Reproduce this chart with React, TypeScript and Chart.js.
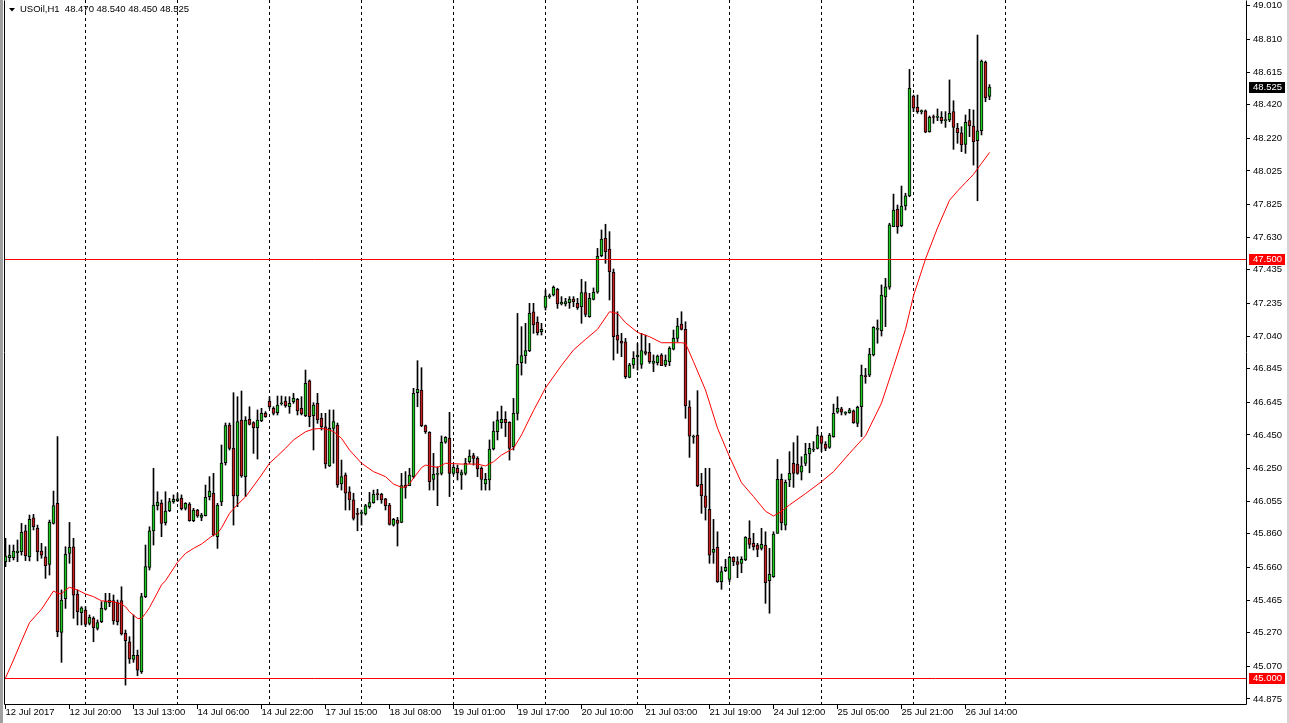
import React, { useEffect, useRef } from "react";
import { Chart, registerables } from "chart.js";

Chart.register(...registerables);

// ---- Data (USOil, H1) ----
const opens = [
  45.694, 45.718, 45.718, 45.747, 45.753, 45.877, 45.723, 45.956, 45.893, 45.757,
  45.723, 45.678, 45.922, 46.042, 45.272, 45.473, 45.743, 45.783, 45.501, 45.389,
  45.405, 45.326, 45.356, 45.296, 45.336, 45.411, 45.447, 45.461, 45.449, 45.461,
  45.266, 45.216, 45.111, 45.135, 45.037, 45.485, 45.660, 45.877, 46.028, 46.044,
  45.926, 45.998, 46.052, 46.058, 46.072, 46.012, 46.038, 45.938, 46.002, 45.958,
  45.968, 46.082, 46.102, 45.843, 46.050, 46.284, 46.509, 46.370, 46.086, 46.539,
  46.201, 46.543, 46.523, 46.493, 46.535, 46.579, 46.652, 46.609, 46.583, 46.636,
  46.652, 46.618, 46.648, 46.662, 46.609, 46.565, 46.772, 46.565, 46.638, 46.549,
  46.499, 46.265, 46.489, 46.509, 46.157, 46.211, 46.111, 46.062, 45.982, 45.982,
  45.978, 46.022, 46.046, 46.096, 46.096, 46.068, 46.032, 45.912, 45.942, 45.928,
  46.151, 46.147, 46.201, 46.702, 46.718, 46.505, 46.465, 46.185, 46.215, 46.221,
  46.406, 46.430, 46.221, 46.250, 46.211, 46.221, 46.290, 46.326, 46.310, 46.250,
  46.157, 46.181, 46.366, 46.469, 46.523, 46.543, 46.525, 46.380, 46.579, 46.881,
  46.923, 46.953, 47.185, 47.122, 47.066, 47.211, 47.275, 47.285, 47.319, 47.231,
  47.231, 47.239, 47.261, 47.235, 47.215, 47.299, 47.155, 47.259, 47.301, 47.519,
  47.623, 47.559, 47.420, 47.046, 47.010, 47.006, 46.793, 46.867, 46.915, 46.871,
  46.947, 46.943, 46.877, 46.881, 46.927, 46.867, 46.887, 46.961, 47.026, 47.112,
  47.080, 46.618, 46.436, 46.449, 46.155, 46.087, 46.006, 45.749, 45.779, 45.574,
  45.640, 45.588, 45.719, 45.694, 45.684, 45.704, 45.833, 45.803, 45.793, 45.773,
  45.793, 45.580, 45.604, 45.863, 46.185, 45.912, 46.181, 46.280, 46.276, 46.227,
  46.280, 46.336, 46.360, 46.370, 46.443, 46.396, 46.376, 46.440, 46.585, 46.605,
  46.579, 46.583, 46.593, 46.519, 46.618, 46.801, 46.807, 46.927, 47.080, 47.072,
  47.273, 47.331, 47.692, 47.796, 47.698, 47.816, 47.876, 48.472, 48.405, 48.379,
  48.383, 48.259, 48.345, 48.345, 48.345, 48.325, 48.329, 48.379, 48.279, 48.253,
  48.184, 48.325, 48.293, 48.205, 48.265, 48.673, 48.470,
];

const highs = [
  45.833, 45.793, 45.793, 45.823, 45.922, 45.912, 45.972, 45.976, 45.912, 45.803,
  45.783, 45.942, 46.115, 46.440, 45.525, 45.783, 45.928, 45.833, 45.525, 45.425,
  45.425, 45.376, 45.365, 45.346, 45.455, 45.505, 45.505, 45.495, 45.465, 45.544,
  45.286, 45.246, 45.376, 45.166, 45.505, 45.793, 45.902, 46.251, 46.111, 46.062,
  46.111, 46.072, 46.092, 46.102, 46.092, 46.046, 46.046, 46.012, 46.006, 45.982,
  46.151, 46.201, 46.221, 46.042, 46.390, 46.521, 46.521, 46.702, 46.678, 46.712,
  46.559, 46.618, 46.529, 46.599, 46.609, 46.589, 46.678, 46.618, 46.682, 46.682,
  46.678, 46.678, 46.698, 46.668, 46.678, 46.837, 46.778, 46.642, 46.698, 46.579,
  46.579, 46.599, 46.599, 46.521, 46.300, 46.223, 46.141, 46.102, 46.012, 46.002,
  46.036, 46.107, 46.121, 46.125, 46.102, 46.072, 46.042, 45.952, 45.958, 46.221,
  46.231, 46.251, 46.728, 46.893, 46.851, 46.509, 46.469, 46.340, 46.260, 46.444,
  46.440, 46.585, 46.270, 46.270, 46.241, 46.310, 46.360, 46.340, 46.320, 46.260,
  46.221, 46.420, 46.529, 46.589, 46.622, 46.589, 46.529, 46.668, 47.175, 47.096,
  47.116, 47.235, 47.235, 47.155, 47.116, 47.315, 47.291, 47.339, 47.325, 47.275,
  47.265, 47.275, 47.275, 47.265, 47.378, 47.364, 47.295, 47.327, 47.563, 47.673,
  47.707, 47.663, 47.440, 47.185, 47.056, 47.026, 46.877, 46.947, 46.996, 47.056,
  47.046, 46.996, 46.927, 46.927, 46.935, 46.927, 46.976, 47.076, 47.146, 47.185,
  47.125, 46.654, 46.449, 46.714, 46.221, 46.251, 46.251, 45.946, 45.872, 45.664,
  45.708, 45.727, 45.723, 45.723, 45.723, 45.843, 45.938, 45.863, 45.803, 45.893,
  45.872, 45.773, 45.872, 46.304, 46.217, 46.181, 46.350, 46.404, 46.444, 46.320,
  46.400, 46.400, 46.410, 46.499, 46.449, 46.410, 46.459, 46.634, 46.678, 46.615,
  46.589, 46.609, 46.599, 46.622, 46.867, 46.847, 46.967, 47.096, 47.136, 47.345,
  47.384, 47.713, 47.887, 47.822, 47.935, 47.892, 48.631, 48.478, 48.478, 48.389,
  48.389, 48.353, 48.359, 48.395, 48.379, 48.379, 48.568, 48.444, 48.309, 48.289,
  48.359, 48.393, 48.389, 48.836, 48.687, 48.681, 48.540,
];

const lows = [
  45.664, 45.694, 45.704, 45.694, 45.733, 45.700, 45.698, 45.883, 45.698, 45.714,
  45.594, 45.614, 45.918, 45.246, 45.093, 45.415, 45.684, 45.356, 45.316, 45.316,
  45.306, 45.316, 45.216, 45.286, 45.330, 45.405, 45.425, 45.320, 45.316, 45.256,
  44.957, 45.087, 45.093, 45.013, 45.027, 45.479, 45.644, 45.793, 46.002, 45.843,
  45.912, 45.992, 46.042, 46.052, 46.002, 46.002, 45.935, 45.932, 45.958, 45.938,
  45.966, 46.062, 45.847, 45.773, 46.028, 46.270, 46.360, 45.912, 46.022, 46.197,
  46.082, 46.509, 46.340, 46.306, 46.529, 46.555, 46.609, 46.569, 46.569, 46.628,
  46.615, 46.579, 46.638, 46.569, 46.569, 46.559, 46.499, 46.360, 46.519, 46.479,
  46.251, 46.261, 46.281, 46.137, 46.121, 46.002, 46.002, 45.942, 45.878, 45.912,
  45.972, 46.012, 46.042, 46.062, 46.042, 46.002, 45.912, 45.906, 45.787, 45.926,
  46.072, 46.147, 46.191, 46.618, 46.499, 46.459, 46.121, 46.121, 46.028, 46.211,
  46.400, 46.082, 46.211, 46.181, 46.125, 46.211, 46.280, 46.270, 46.201, 46.121,
  46.121, 46.121, 46.360, 46.420, 46.489, 46.440, 46.300, 46.360, 46.539, 46.807,
  46.877, 46.947, 47.056, 47.046, 47.046, 47.195, 47.265, 47.279, 47.205, 47.225,
  47.219, 47.205, 47.215, 47.199, 47.116, 47.155, 47.152, 47.255, 47.295, 47.513,
  47.474, 47.255, 46.897, 46.937, 46.917, 46.787, 46.791, 46.847, 46.837, 46.847,
  46.927, 46.877, 46.827, 46.867, 46.863, 46.857, 46.863, 46.957, 47.006, 47.076,
  46.549, 46.316, 46.400, 46.141, 45.982, 45.942, 45.684, 45.684, 45.570, 45.529,
  45.634, 45.574, 45.670, 45.598, 45.628, 45.700, 45.773, 45.763, 45.723, 45.763,
  45.445, 45.386, 45.600, 45.863, 45.883, 45.883, 46.141, 46.137, 46.215, 46.181,
  46.266, 46.224, 46.350, 46.366, 46.350, 46.356, 46.370, 46.436, 46.579, 46.569,
  46.569, 46.579, 46.519, 46.499, 46.440, 46.758, 46.797, 46.921, 46.997, 47.040,
  47.096, 47.319, 47.692, 47.653, 47.692, 47.792, 47.871, 48.379, 48.369, 48.365,
  48.253, 48.256, 48.309, 48.325, 48.309, 48.285, 48.319, 48.154, 48.190, 48.140,
  48.130, 48.229, 48.060, 47.847, 48.240, 48.438, 48.450,
];

const closes = [
  45.727, 45.733, 45.757, 45.757, 45.869, 45.729, 45.946, 45.902, 45.753, 45.733,
  45.670, 45.928, 46.028, 45.276, 45.465, 45.737, 45.779, 45.494, 45.395, 45.419,
  45.320, 45.362, 45.300, 45.330, 45.415, 45.455, 45.465, 45.340, 45.336, 45.262,
  45.222, 45.113, 45.135, 45.047, 45.485, 45.664, 45.877, 46.032, 46.048, 45.922,
  45.996, 46.052, 46.066, 46.068, 46.010, 46.042, 45.938, 46.002, 45.966, 45.972,
  46.078, 46.115, 45.853, 46.032, 46.282, 46.505, 46.370, 46.086, 46.529, 46.205,
  46.539, 46.513, 46.493, 46.539, 46.579, 46.559, 46.618, 46.579, 46.628, 46.638,
  46.624, 46.638, 46.668, 46.593, 46.575, 46.758, 46.559, 46.628, 46.539, 46.499,
  46.277, 46.489, 46.529, 46.151, 46.201, 46.102, 46.062, 45.952, 45.976, 45.984,
  46.028, 46.046, 46.096, 46.094, 46.062, 46.028, 45.916, 45.946, 45.922, 46.147,
  46.137, 46.211, 46.698, 46.722, 46.505, 46.469, 46.171, 46.215, 46.221, 46.406,
  46.436, 46.221, 46.256, 46.224, 46.226, 46.280, 46.324, 46.310, 46.247, 46.185,
  46.185, 46.366, 46.473, 46.539, 46.543, 46.523, 46.370, 46.579, 46.871, 46.923,
  46.953, 47.175, 47.106, 47.060, 47.080, 47.279, 47.279, 47.331, 47.231, 47.241,
  47.245, 47.261, 47.245, 47.209, 47.299, 47.169, 47.265, 47.301, 47.516, 47.619,
  47.543, 47.424, 47.036, 47.016, 46.997, 46.797, 46.867, 46.907, 46.927, 46.953,
  46.937, 46.887, 46.891, 46.921, 46.863, 46.897, 46.967, 47.026, 47.100, 47.080,
  46.624, 46.443, 46.436, 46.147, 46.087, 46.018, 45.733, 45.767, 45.574, 45.634,
  45.660, 45.719, 45.694, 45.678, 45.708, 45.839, 45.797, 45.783, 45.767, 45.797,
  45.568, 45.618, 45.859, 46.185, 45.926, 46.167, 46.221, 46.221, 46.221, 46.265,
  46.334, 46.370, 46.364, 46.449, 46.400, 46.370, 46.449, 46.579, 46.609, 46.585,
  46.581, 46.599, 46.523, 46.615, 46.807, 46.798, 46.933, 47.092, 47.086, 47.285,
  47.333, 47.703, 47.792, 47.692, 47.816, 47.876, 48.518, 48.399, 48.379, 48.380,
  48.256, 48.345, 48.344, 48.353, 48.325, 48.326, 48.369, 48.285, 48.253, 48.180,
  48.315, 48.293, 48.200, 48.265, 48.681, 48.462, 48.525,
];

// Moving average (red line), read at selected bars
const maIndex = [
  0, 2, 4, 6, 9, 12, 13, 14, 15, 16, 18, 20, 22, 24, 27, 29, 30, 31, 33, 34,
  35, 36, 37, 39, 40, 43, 45, 47, 49, 52, 53, 54, 56, 58, 60, 62, 64, 66, 68, 70,
  72, 75, 77, 79, 81, 82, 84, 86, 89, 92, 95, 97, 99, 100, 101, 102, 104, 105, 108, 110,
  114, 118, 120, 122, 124, 127, 129, 132, 135, 139, 142, 145, 148, 151, 153, 155, 158, 161, 164, 169,
  170, 172, 175, 178, 181, 184, 187, 190, 192, 194, 196, 200, 204, 207, 211, 215, 219, 222, 225, 227,
  230, 233, 236, 238, 240, 242, 244, 246,
];
const maValue = [
  45.000, 45.107, 45.220, 45.330, 45.410, 45.519, 45.505, 45.501, 45.525, 45.541, 45.525, 45.501, 45.485, 45.460, 45.455, 45.440, 45.425, 45.395, 45.355, 45.355,
  45.385, 45.420, 45.465, 45.555, 45.580, 45.690, 45.743, 45.773, 45.799, 45.853, 45.863, 45.895, 45.982, 46.035, 46.080, 46.145, 46.211, 46.281, 46.325, 46.370,
  46.420, 46.469, 46.485, 46.489, 46.479, 46.470, 46.430, 46.360, 46.281, 46.231, 46.201, 46.157, 46.137, 46.140, 46.160, 46.191, 46.255, 46.270, 46.256, 46.281,
  46.276, 46.276, 46.265, 46.290, 46.330, 46.370, 46.450, 46.595, 46.730, 46.865, 46.957, 47.020, 47.080, 47.185, 47.175, 47.120, 47.062, 47.036, 47.000, 47.000,
  46.996, 46.887, 46.718, 46.490, 46.320, 46.165, 46.082, 45.995, 45.966, 45.995, 46.032, 46.100, 46.171, 46.231, 46.340, 46.445, 46.640, 46.857, 47.080, 47.280,
  47.500, 47.685, 47.850, 47.905, 47.955, 48.005, 48.070, 48.135,
];

const timeLabels = [
  "12 Jul 2017", "12 Jul 20:00", "13 Jul 13:00", "14 Jul 06:00", "14 Jul 22:00",
  "17 Jul 15:00", "18 Jul 08:00", "19 Jul 01:00", "19 Jul 17:00", "20 Jul 10:00",
  "21 Jul 03:00", "21 Jul 19:00", "24 Jul 12:00", "25 Jul 05:00", "25 Jul 21:00",
  "26 Jul 14:00",
];
const timeLabelIndex = [0, 16, 32, 48, 64, 80, 96, 112, 128, 144, 160, 176, 192, 208, 224, 240];

const priceTicks = [
  44.875, 45.07, 45.27, 45.465, 45.66, 45.86, 46.055, 46.25, 46.45, 46.645, 46.845,
  47.04, 47.235, 47.435, 47.63, 47.825, 48.025, 48.22, 48.42, 48.615, 48.81, 49.01,
];

const daySeparatorIndex = [20, 43, 66, 89, 112, 135, 158, 181, 204, 227, 250];

const levelLines = [47.5, 45.0];
const lastPrice = 48.525;
const titleText = "USOil,H1  48.470 48.540 48.450 48.525";

const FONT = '"Liberation Sans", Arial, sans-serif';
const BULL = "#22c822";
const BEAR = "#c81e1e";

const mtPlugin = {
  id: "mtDecor",
  beforeDatasetsDraw(chart: any) {
    const { ctx, chartArea: a, scales } = chart;
    const xs = scales.x;
    ctx.save();
    ctx.strokeStyle = "#000";
    ctx.lineWidth = 1;
    ctx.setLineDash([3, 3]);
    for (const s of daySeparatorIndex) {
      const px = Math.floor(xs.getPixelForValue(s)) + 0.5;
      if (px < a.left || px > a.right) continue;
      ctx.beginPath();
      ctx.moveTo(px, a.top);
      ctx.lineTo(px, a.bottom);
      ctx.stroke();
    }
    ctx.restore();
  },
  afterDatasetsDraw(chart: any) {
    const { ctx, chartArea: a, scales } = chart;
    const ys = scales.y;
    ctx.save();
    ctx.strokeStyle = "#ff0000";
    ctx.lineWidth = 1;
    for (const lv of levelLines) {
      const py = Math.round(ys.getPixelForValue(lv)) + 0.5;
      ctx.beginPath();
      ctx.moveTo(a.left, py);
      ctx.lineTo(a.right, py);
      ctx.stroke();
    }
    ctx.restore();
  },
  afterDraw(chart: any) {
    const { ctx, chartArea: a, scales, width, height } = chart;
    const ys = scales.y;
    ctx.save();
    ctx.strokeStyle = "#000";
    ctx.lineWidth = 1;
    const L = Math.floor(a.left) + 0.5;
    const R = Math.floor(a.right) + 0.5;
    const B = Math.floor(a.bottom) + 0.5;
    const T = Math.floor(a.top) + 0.5;
    ctx.beginPath();
    ctx.moveTo(L, T);
    ctx.lineTo(L, B);
    ctx.lineTo(R, B);
    ctx.lineTo(R, T);
    ctx.stroke();
    ctx.fillStyle = "#a0a0a0";
    ctx.fillRect(0, 0, 3, height);
    ctx.fillStyle = "#d4d4d4";
    ctx.fillRect(width - 2, 0, 2, height);
    ctx.fillStyle = "#000";
    ctx.beginPath();
    ctx.moveTo(9, 8);
    ctx.lineTo(15, 8);
    ctx.lineTo(12, 11.5);
    ctx.closePath();
    ctx.fill();
    ctx.font = `9.5px ${FONT}`;
    ctx.textBaseline = "middle";
    ctx.textAlign = "left";
    ctx.fillText(titleText, 20, 9);
    const boxes = [
      { v: lastPrice, bg: "#000000" },
      { v: levelLines[0], bg: "#ff0000" },
      { v: levelLines[1], bg: "#ff0000" },
    ];
    for (const b of boxes) {
      const py = Math.round(ys.getPixelForValue(b.v));
      ctx.fillStyle = b.bg;
      ctx.fillRect(Math.floor(a.right) + 3, py - 5, 36, 11);
      ctx.fillStyle = "#ffffff";
      ctx.fillText(b.v.toFixed(3), Math.floor(a.right) + 7, py + 0.5);
    }
    ctx.restore();
  },
};

export default function App() {
  const ref = useRef<HTMLCanvasElement | null>(null);

  useEffect(() => {
    if (!ref.current) return;
    const bodyColors = opens.map((o, i) => (closes[i] >= o ? BULL : BEAR));
    const chart = new Chart(ref.current, {
      type: "bar",
      data: {
        datasets: [
          {
            type: "line",
            label: "MA",
            data: maIndex.map((x, k) => ({ x, y: maValue[k] })),
            borderColor: "#ff0000",
            borderWidth: 1,
            pointRadius: 0,
            tension: 0,
            fill: false,
            order: 0,
          } as any,
          {
            type: "bar",
            label: "body",
            data: opens.map((o, i) => ({ x: i, y: [o, closes[i]] })),
            backgroundColor: bodyColors,
            borderColor: "#000000",
            borderWidth: 1,
            borderSkipped: false,
            barThickness: 3,
            minBarLength: 1,
            grouped: false,
            order: 1,
          } as any,
          {
            type: "bar",
            label: "wick",
            data: lows.map((l, i) => ({ x: i, y: [l, highs[i]] })),
            backgroundColor: "#000000",
            borderWidth: 0,
            barThickness: 1,
            minBarLength: 1,
            grouped: false,
            order: 2,
          } as any,
        ],
      },
      options: {
        animation: false,
        responsive: false,
        devicePixelRatio: 1,
        events: [],
        layout: { padding: { left: 4, top: 0, right: 0, bottom: 0 } },
        plugins: {
          legend: { display: false },
          tooltip: { enabled: false },
          title: { display: false },
        },
        scales: {
          x: {
            type: "linear",
            position: "bottom",
            offset: false,
            bounds: "data",
            min: -0.375,
            max: 310.125,
            afterBuildTicks: (s: any) => {
              s.ticks = timeLabelIndex.map((v) => ({ value: v }));
            },
            afterFit: (s: any) => {
              s.height = 19;
              s.paddingLeft = 0;
              s.paddingRight = 0;
            },
            grid: {
              offset: false,
              drawOnChartArea: false,
              drawTicks: true,
              tickLength: 5,
              color: "#000",
              tickColor: "#000",
            },
            border: { display: false },
            ticks: {
              autoSkip: false,
              maxRotation: 0,
              minRotation: 0,
              align: "start",
              padding: -2,
              color: "#000",
              font: { family: FONT, size: 9.5 },
              callback: (_v: any, idx: number) => timeLabels[idx] ?? "",
            },
          },
          y: {
            type: "linear",
            position: "right",
            min: 44.8445,
            max: 49.045,
            afterBuildTicks: (s: any) => {
              s.ticks = priceTicks.map((v) => ({ value: v }));
            },
            afterFit: (s: any) => {
              s.width = 43;
              s.paddingTop = 0;
              s.paddingBottom = 0;
            },
            grid: {
              drawOnChartArea: false,
              drawTicks: true,
              tickLength: 4,
              color: "#000",
              tickColor: "#000",
            },
            border: { display: false },
            ticks: {
              padding: 3,
              color: "#000",
              font: { family: FONT, size: 9.5 },
              callback: (v: any) => Number(v).toFixed(3),
            },
          },
        },
      } as any,
      plugins: [mtPlugin as any],
    });
    return () => chart.destroy();
  }, []);

  return (
    <div
      style={{
        position: "fixed",
        left: 0,
        top: 0,
        width: 1289,
        height: 723,
        background: "#ffffff",
      }}
    >
      <canvas ref={ref} width={1289} height={723} style={{ display: "block" }} />
    </div>
  );
}
